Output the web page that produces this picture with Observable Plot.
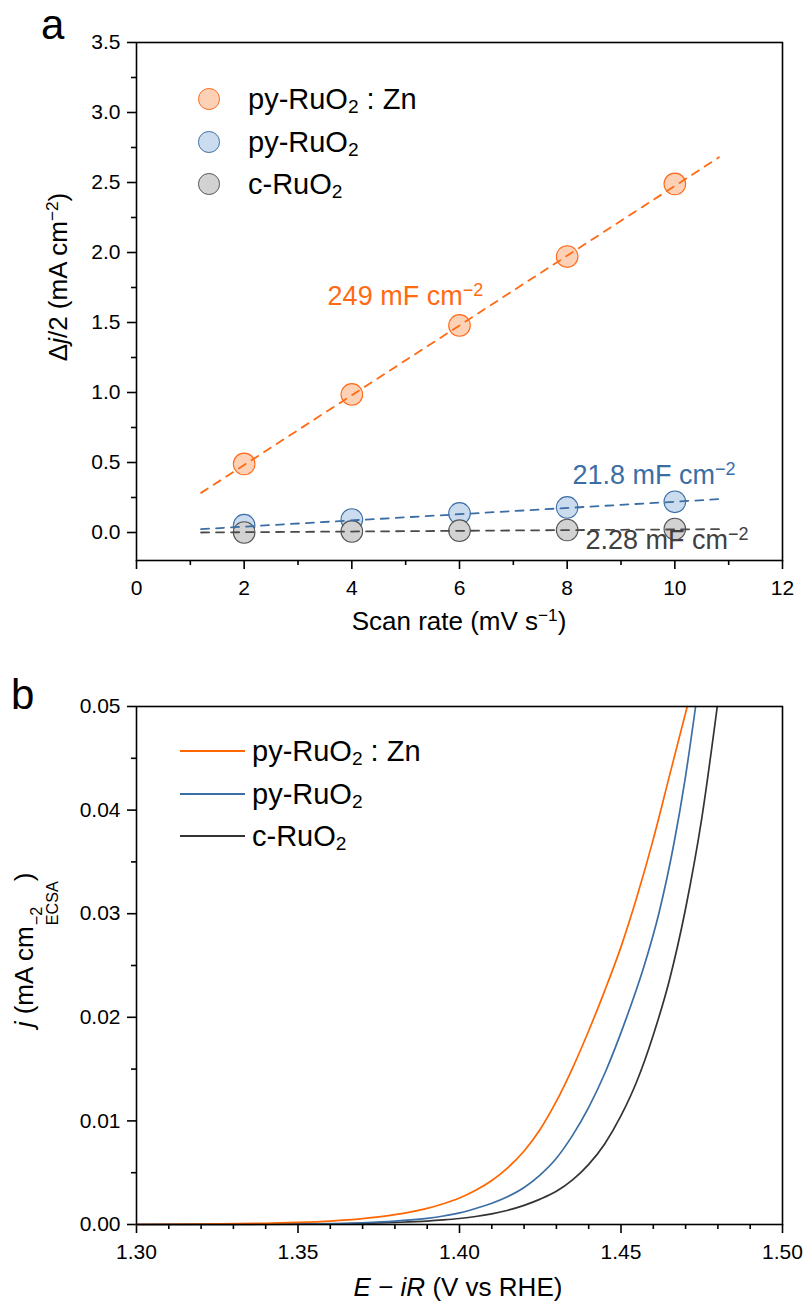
<!DOCTYPE html>
<html>
<head>
<meta charset="utf-8">
<script src="https://cdn.jsdelivr.net/npm/d3@7"></script>
<script src="https://cdn.jsdelivr.net/npm/@observablehq/plot@0.6"></script>
<style>
  html, body { margin: 0; padding: 0; background: #fff; }
  #root { position: relative; width: 804px; height: 1309px; overflow: hidden;
          font-family: "Liberation Sans", Arial, Helvetica, sans-serif; color: #000; }
  #root svg { position: absolute; left: 0; }
  .abs { position: absolute; white-space: nowrap; line-height: 1; }
  .abs sup { font-size: 0.66em; line-height: 0; vertical-align: 0.55em; }
  .abs sub { font-size: 0.66em; line-height: 0; vertical-align: -0.25em; }
  .ss { display: inline-flex; flex-direction: column; font-size: 0.62em; line-height: 1.0;
        vertical-align: -0.55em; margin-left: 1px; }
  .title { font-size: 26px; transform: translate(-50%, -50%); }
  .ytitle { font-size: 26px; transform: translate(-50%, -50%) rotate(-90deg); }
  .panel { font-size: 42px; }
  .leg { font-size: 29px; transform: translateY(-50%); }
</style>
</head>
<body>
<div id="root"></div>
<script>
const FONT = '"Liberation Sans", Arial, Helvetica, sans-serif';

// ---------- Panel a: double-layer capacitance ----------
const scanRate = [2, 4, 6, 8, 10];
const djZn = [0.49, 0.986, 1.479, 1.971, 2.49];
const djPy = [0.052, 0.093, 0.136, 0.179, 0.219];
const djC  = [0.0, 0.008, 0.013, 0.018, 0.025];
const fitRange = [1.2, 10.82];
const fitZn = [0.283, 2.68];
const fitPy = [0.024, 0.238];
const fitC  = [0.0, 0.024];
const capText = ["249 mF cm", "21.8 mF cm", "2.28 mF cm"];
const capSup  = ["\u22122", "\u22122", "\u22122"];
const capX = [3.55, 8.10, 8.34];
const capY = [1.69, 0.41, -0.055];
const scanTicks = [0, 2, 4, 6, 8, 10, 12];
const scanMinor = [1, 3, 5, 7, 9, 11];
const djTicks = [0, 0.5, 1, 1.5, 2, 2.5, 3, 3.5];
const djMinor = [0.25, 0.75, 1.25, 1.75, 2.25, 2.75, 3.25];

// ---------- Panel b: ECSA-normalised LSV ----------
const E_zn = [1.300,1.320,1.340,1.350,1.360,1.370,1.375,1.380,1.385,1.390,1.395,1.400,1.405,1.410,1.415,1.420,1.425,1.430,1.435,1.440,1.445,1.450,1.455,1.460,1.465,1.4705];
const j_zn = [0.0,0.00004,0.00012,0.0002,0.00033,0.00056,0.00073,0.00095,0.00122,0.00155,0.0020,0.00255,0.0033,0.00425,0.0055,0.0071,0.0092,0.0119,0.0151,0.0187,0.0226,0.0268,0.0317,0.0372,0.0433,0.0500];
const E_py = [1.300,1.330,1.350,1.360,1.370,1.380,1.385,1.390,1.395,1.400,1.405,1.410,1.415,1.420,1.425,1.430,1.435,1.440,1.445,1.4514,1.4571,1.4617,1.4664,1.4698,1.4731];
const j_py = [0.0,0.00001,0.00005,0.00009,0.00017,0.00032,0.00044,0.0006,0.00082,0.00112,0.00155,0.00205,0.0027,0.00357,0.0048,0.0064,0.0086,0.0113,0.0146,0.0197,0.0249,0.0300,0.0368,0.0429,0.0500];
const E_c  = [1.300,1.350,1.370,1.380,1.390,1.395,1.400,1.405,1.410,1.415,1.420,1.425,1.430,1.435,1.440,1.445,1.450,1.455,1.460,1.465,1.470,1.475,1.4798];
const j_c  = [0.0,0.00003,0.00011,0.0002,0.00033,0.00044,0.00058,0.00077,0.00103,0.00138,0.00185,0.00245,0.0032,0.0043,0.0058,0.0078,0.0105,0.0139,0.0183,0.0236,0.0305,0.0392,0.0500];
const eTicks = [1.30, 1.35, 1.40, 1.45, 1.50];
const eMinor = [1.31,1.32,1.33,1.34,1.36,1.37,1.38,1.39,1.41,1.42,1.43,1.44,1.46,1.47,1.48,1.49];
const jTicks = [0, 0.01, 0.02, 0.03, 0.04, 0.05];
const jMinor = [0.005, 0.015, 0.025, 0.035, 0.045];

// ---------- Series metadata ----------
const seriesKeys = ["zn", "py", "c"];
const nameParts = [["py-RuO", "2", " : Zn"], ["py-RuO", "2", ""], ["c-RuO", "2", ""]];
const lineColor = ["#FF6600", "#3A6EA5", "#333333"];
const dotFill   = ["#FDD1B6", "#CBDCEE", "#D2D2D2"];
const dotStroke = ["#FF6A1A", "#3E6FA7", "#555555"];
const dashColor = ["#FF6A13", "#3A6EA5", "#4A4A4A"];
const capColor  = ["#FF6A13", "#3A6EA5", "#404040"];

// ---------- Build tables ----------
const djSeries = [djZn, djPy, djC];
const fitSeries = [fitZn, fitPy, fitC];
const dots = seriesKeys.flatMap((k, i) => scanRate.map((x, t) => ({k, i, x, y: djSeries[i][t]})));
const fits = seriesKeys.flatMap((k, i) => fitRange.map((x, t) => ({k, i, x, y: fitSeries[i][t]})));
const caps = capText.map((t, i) => ({t, i, x: capX[i], y: capY[i]}));

const Es = [E_zn, E_py, E_c], Js = [j_zn, j_py, j_c];
const curves = [2, 1, 0].flatMap(i => Es[i].map((e, t) => ({k: seriesKeys[i], i, E: e, j: Js[i][t]})));

const root = document.getElementById("root");
const axStyle = {strokeWidth: 1.6, stroke: "#000", fill: "#000"};

// ---------- Plot a ----------
const plotA = Plot.plot({
  width: 804, height: 640,
  marginLeft: 136, marginRight: 22, marginTop: 42, marginBottom: 80,
  style: {fontFamily: FONT, fontSize: "21px", color: "#000", background: "transparent", overflow: "visible"},
  x: {domain: [0, 12]},
  y: {domain: [-0.2, 3.5]},
  marks: [
    Plot.axisX({ticks: scanTicks, tickSize: 9, tickPadding: 11, tickFormat: d => String(d), label: null, ...axStyle}),
    Plot.axisX({ticks: scanMinor, tickSize: 5, tickFormat: () => "", label: null, ...axStyle}),
    Plot.axisY({ticks: djTicks, tickSize: 9, tickPadding: 7, tickFormat: d3.format(".1f"), label: null, ...axStyle}),
    Plot.axisY({ticks: djMinor, tickSize: 5, tickFormat: () => "", label: null, ...axStyle}),
    Plot.dot(dots, {x: "x", y: "y", r: 10.8, fill: d => dotFill[d.i], stroke: d => dotStroke[d.i], strokeWidth: 1.1}),
    Plot.line(fits, {x: "x", y: "y", z: "k", stroke: d => dashColor[d.i], strokeWidth: 1.8, strokeDasharray: "8,7"}),
    Plot.text(caps, {x: "x", y: "y", text: "t", textAnchor: "start", fill: d => capColor[d.i], fontSize: 27}),
    Plot.frame({stroke: "#000", strokeWidth: 1.6})
  ]
});
plotA.style.top = "0px";
root.appendChild(plotA);

// superscripts for capacitance labels
d3.select(plotA).selectAll("text").each(function() {
  const n = capText.indexOf(this.textContent);
  if (n < 0) return;
  const t = d3.select(this);
  t.text(null);
  t.append("tspan").text(capText[n]);
  t.append("tspan").attr("dy", "-0.5em").attr("font-size", "18px").text(capSup[n]);
});

// ---------- Plot b ----------
const plotB = Plot.plot({
  width: 804, height: 669,
  marginLeft: 136, marginRight: 22, marginTop: 66, marginBottom: 85,
  style: {fontFamily: FONT, fontSize: "21px", color: "#000", background: "transparent", overflow: "visible"},
  x: {domain: [1.30, 1.50]},
  y: {domain: [0, 0.05]},
  marks: [
    Plot.axisX({ticks: eTicks, tickSize: 9, tickPadding: 11, tickFormat: d3.format(".2f"), label: null, ...axStyle}),
    Plot.axisX({ticks: eMinor, tickSize: 5, tickFormat: () => "", label: null, ...axStyle}),
    Plot.axisY({ticks: jTicks, tickSize: 9, tickPadding: 7, tickFormat: d3.format(".2f"), label: null, ...axStyle}),
    Plot.axisY({ticks: jMinor, tickSize: 5, tickFormat: () => "", label: null, ...axStyle}),
    Plot.line(curves, {x: "E", y: "j", z: "k", stroke: d => lineColor[d.i], strokeWidth: 1.7, curve: "monotone-x"}),
    Plot.frame({stroke: "#000", strokeWidth: 1.6})
  ]
});
plotB.style.top = "640px";
root.appendChild(plotB);

// ---------- HTML text: panel letters, titles, legends ----------
function addDiv(cls, html, css) {
  const d = document.createElement("div");
  d.className = "abs " + cls;
  d.innerHTML = html;
  Object.assign(d.style, css);
  root.appendChild(d);
  return d;
}
addDiv("panel", "a", {left: "41px", top: "4px"});
addDiv("panel", "b", {left: "11px", top: "674px"});

addDiv("title", "Scan rate (mV s<sup>\u22121</sup>)", {left: "459px", top: "621px"});
addDiv("ytitle", "\u0394<i>j</i>/2 (mA cm<sup>\u22122</sup>)", {left: "58px", top: "277px"});
addDiv("title", "<i>E</i> \u2212 <i>iR</i> (V vs RHE)", {left: "458px", top: "1287px"});
addDiv("ytitle", "<i>j</i> (mA cm<span class='ss'><span>\u22122</span><span>ECSA</span></span>)", {left: "36px", top: "950px"});

// legend a (circles)
const legAy = [99, 142, 184];
nameParts.forEach((p, i) => {
  const c = document.createElement("div");
  Object.assign(c.style, {position: "absolute", left: (209 - 10.8) + "px", top: (legAy[i] - 10.8) + "px",
    width: "21.6px", height: "21.6px", boxSizing: "border-box", borderRadius: "50%",
    background: dotFill[i], border: "1.1px solid " + dotStroke[i]});
  root.appendChild(c);
  addDiv("leg", p[0] + "<sub>" + p[1] + "</sub>" + p[2], {left: "248px", top: legAy[i] + "px"});
});
// legend b (lines)
const legBy = [751, 794, 836];
nameParts.forEach((p, i) => {
  const l = document.createElement("div");
  Object.assign(l.style, {position: "absolute", left: "180px", top: (legBy[i] - 1) + "px",
    width: "65px", height: "2px", background: lineColor[i]});
  root.appendChild(l);
  addDiv("leg", p[0] + "<sub>" + p[1] + "</sub>" + p[2], {left: "252px", top: legBy[i] + "px"});
});
</script>
</body>
</html>
